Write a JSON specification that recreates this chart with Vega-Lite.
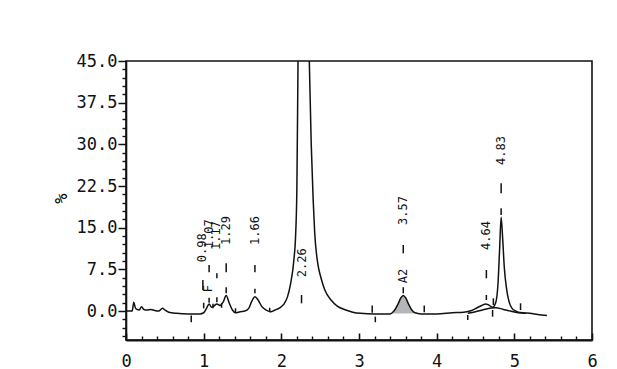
{
  "$schema": "https://vega.github.io/schema/vega-lite/v6.json",
  "width": 466,
  "height": 279,
  "autosize": "none",
  "padding": {"left": 126, "top": 61, "right": 25, "bottom": 29},
  "background": "white",
  "config": {
    "view": {"stroke": "#111", "strokeWidth": 1.6},
    "axis": {"grid": false, "domainColor": "#111", "tickColor": "#111", "labelColor": "#111", "labelFont": "DejaVu Sans Mono", "labelFontSize": 17, "titleFont": "DejaVu Sans Mono"}
  },
  "datasets": {
    "sig": [
      {"x": 0.00, "y": 0.0}, {"x": 0.08, "y": 0.0}, {"x": 0.10, "y": 1.6}, {"x": 0.12, "y": 0.6},
      {"x": 0.14, "y": 0.3}, {"x": 0.17, "y": 0.2}, {"x": 0.20, "y": 0.8}, {"x": 0.23, "y": 0.3},
      {"x": 0.27, "y": 0.2}, {"x": 0.32, "y": 0.3}, {"x": 0.37, "y": 0.1}, {"x": 0.42, "y": 0.0},
      {"x": 0.47, "y": 0.5}, {"x": 0.50, "y": 0.2}, {"x": 0.55, "y": -0.2}, {"x": 0.65, "y": -0.4},
      {"x": 0.80, "y": -0.5}, {"x": 0.95, "y": -0.5}, {"x": 1.00, "y": -0.3}, {"x": 1.04, "y": 0.6},
      {"x": 1.07, "y": 1.3}, {"x": 1.10, "y": 0.7}, {"x": 1.13, "y": 0.9}, {"x": 1.17, "y": 1.3},
      {"x": 1.21, "y": 1.0}, {"x": 1.25, "y": 1.6}, {"x": 1.29, "y": 2.8}, {"x": 1.33, "y": 1.4},
      {"x": 1.37, "y": 0.2}, {"x": 1.41, "y": -0.3}, {"x": 1.47, "y": -0.1}, {"x": 1.53, "y": 0.0},
      {"x": 1.58, "y": 0.5}, {"x": 1.62, "y": 1.8}, {"x": 1.66, "y": 2.6}, {"x": 1.70, "y": 2.0},
      {"x": 1.75, "y": 0.8}, {"x": 1.80, "y": 0.2}, {"x": 1.86, "y": -0.1}, {"x": 1.92, "y": 0.2},
      {"x": 1.98, "y": 0.6}, {"x": 2.03, "y": 1.2}, {"x": 2.08, "y": 2.6}, {"x": 2.12, "y": 5.0},
      {"x": 2.16, "y": 9.0}, {"x": 2.185, "y": 14.0}, {"x": 2.20, "y": 22.0}, {"x": 2.215, "y": 45.0},
      {"x": 2.29, "y": 120.0}, {"x": 2.36, "y": 45.0}, {"x": 2.385, "y": 30.0}, {"x": 2.41, "y": 20.0},
      {"x": 2.43, "y": 14.0}, {"x": 2.47, "y": 8.5}, {"x": 2.51, "y": 6.0}, {"x": 2.56, "y": 3.8},
      {"x": 2.64, "y": 2.0}, {"x": 2.72, "y": 0.9}, {"x": 2.83, "y": 0.2}, {"x": 2.92, "y": -0.2},
      {"x": 3.02, "y": -0.4}, {"x": 3.20, "y": -0.5}, {"x": 3.40, "y": -0.5}, {"x": 3.45, "y": 0.0},
      {"x": 3.50, "y": 1.2}, {"x": 3.54, "y": 2.4}, {"x": 3.57, "y": 2.8}, {"x": 3.60, "y": 2.4},
      {"x": 3.64, "y": 1.2}, {"x": 3.68, "y": 0.2}, {"x": 3.72, "y": -0.3}, {"x": 3.80, "y": -0.5},
      {"x": 4.00, "y": -0.5}, {"x": 4.20, "y": -0.3}, {"x": 4.35, "y": -0.2}, {"x": 4.45, "y": 0.1},
      {"x": 4.52, "y": 0.6}, {"x": 4.58, "y": 1.0}, {"x": 4.63, "y": 1.3}, {"x": 4.67, "y": 1.1},
      {"x": 4.72, "y": 0.7}, {"x": 4.76, "y": 1.5}, {"x": 4.79, "y": 5.0}, {"x": 4.81, "y": 11.0},
      {"x": 4.83, "y": 16.9}, {"x": 4.85, "y": 13.0}, {"x": 4.87, "y": 8.0}, {"x": 4.90, "y": 4.0},
      {"x": 4.93, "y": 1.8}, {"x": 4.97, "y": 0.5}, {"x": 5.02, "y": 0.0}, {"x": 5.10, "y": -0.3},
      {"x": 5.20, "y": -0.4}, {"x": 5.30, "y": -0.6}, {"x": 5.42, "y": -0.8}
    ],
    "skim": [
      {"x": 4.40, "y": -0.4}, {"x": 4.50, "y": -0.1}, {"x": 4.60, "y": 0.25}, {"x": 4.70, "y": 0.55},
      {"x": 4.76, "y": 0.6}, {"x": 4.85, "y": 0.35}, {"x": 4.95, "y": 0.0}, {"x": 5.05, "y": -0.3},
      {"x": 5.15, "y": -0.4}
    ],
    "a2": [
      {"x": 3.44, "y": -0.1, "b": -0.45}, {"x": 3.47, "y": 0.5, "b": -0.45}, {"x": 3.50, "y": 1.2, "b": -0.45},
      {"x": 3.54, "y": 2.4, "b": -0.45}, {"x": 3.57, "y": 2.8, "b": -0.45}, {"x": 3.60, "y": 2.4, "b": -0.45},
      {"x": 3.64, "y": 1.2, "b": -0.45}, {"x": 3.68, "y": 0.2, "b": -0.45}, {"x": 3.71, "y": -0.3, "b": -0.45}
    ],
    "labels": [
      {"x": 0.98, "y": 8.8, "t": "0.98"},
      {"x": 1.07, "y": 11.3, "t": "1.07"},
      {"x": 1.16, "y": 11.0, "t": "1.17"},
      {"x": 1.29, "y": 11.9, "t": "1.29"},
      {"x": 1.66, "y": 11.9, "t": "1.66"},
      {"x": 2.26, "y": 6.1, "t": "2.26"},
      {"x": 3.57, "y": 15.5, "t": "3.57"},
      {"x": 4.64, "y": 11.0, "t": "4.64"},
      {"x": 4.83, "y": 26.3, "t": "4.83"},
      {"x": 1.06, "y": 3.4, "t": "F"},
      {"x": 3.57, "y": 5.0, "t": "A2"}
    ],
    "dashes": [
      {"x": 0.99, "y1": 3.8, "y2": 5.6}, {"x": 1.0, "y1": 0.5, "y2": 1.5},
      {"x": 1.07, "y1": 7.0, "y2": 8.3}, {"x": 1.07, "y1": 1.5, "y2": 2.4},
      {"x": 1.17, "y1": 5.9, "y2": 6.8}, {"x": 1.17, "y1": 1.6, "y2": 2.5},
      {"x": 1.12, "y1": 0.5, "y2": 1.3}, {"x": 1.23, "y1": 0.6, "y2": 1.4},
      {"x": 1.29, "y1": 7.0, "y2": 8.6}, {"x": 1.29, "y1": 3.2, "y2": 4.3},
      {"x": 1.66, "y1": 7.0, "y2": 8.3}, {"x": 1.66, "y1": 3.2, "y2": 4.0},
      {"x": 1.41, "y1": -0.3, "y2": 0.5}, {"x": 1.85, "y1": -0.2, "y2": 0.6},
      {"x": 2.26, "y1": 1.4, "y2": 2.9},
      {"x": 3.57, "y1": 10.4, "y2": 11.9}, {"x": 3.57, "y1": 3.2, "y2": 4.3},
      {"x": 4.64, "y1": 5.9, "y2": 7.4}, {"x": 4.64, "y1": 2.0, "y2": 2.9},
      {"x": 4.83, "y1": 21.2, "y2": 23.0}, {"x": 4.83, "y1": 17.3, "y2": 18.5},
      {"x": 0.84, "y1": -2.0, "y2": -0.8}, {"x": 3.17, "y1": -0.3, "y2": 1.0},
      {"x": 3.21, "y1": -2.0, "y2": -1.0}, {"x": 3.84, "y1": -0.2, "y2": 1.0},
      {"x": 4.40, "y1": -1.6, "y2": -0.7}, {"x": 4.73, "y1": 1.1, "y2": 2.3},
      {"x": 4.72, "y1": -1.0, "y2": 0.2}, {"x": 5.08, "y1": 0.2, "y2": 1.4}
    ]
  },
  "resolve": {"axis": {"x": "independent", "y": "independent"}},
  "layer": [
    {
      "data": {"name": "a2"},
      "mark": {"type": "area", "interpolate": "monotone", "fill": "#b3b7bb", "opacity": 1},
      "encoding": {
        "x": {"field": "x", "type": "quantitative", "scale": {"domain": [0, 6], "nice": false, "zero": false},
          "axis": {"orient": "bottom", "values": [0, 1, 2, 3, 4, 5, 6], "tickSize": -7, "tickWidth": 1.6, "labelPadding": 20, "domainWidth": 2, "title": null, "labelFlush": false, "labelOverlap": false}},
        "y": {"field": "y", "type": "quantitative", "scale": {"domain": [-5.2, 45], "nice": false, "zero": false},
          "axis": {"orient": "left", "values": [0, 7.5, 15, 22.5, 30, 37.5, 45], "format": ".1f", "tickSize": 8, "tickWidth": 1.5, "labelPadding": 1, "domainWidth": 1.6, "title": "%", "titleFontSize": 17, "titleFontWeight": "normal", "titleX": -56, "titleY": 137, "labelFlush": false, "labelOverlap": false}},
        "y2": {"field": "b"}
      }
    },
    {
      "data": {"name": "sig"},
      "mark": {"type": "line", "interpolate": "monotone", "clip": true, "stroke": "#111", "strokeWidth": 1.5},
      "encoding": {
        "x": {"field": "x", "type": "quantitative",
          "axis": {"orient": "bottom", "values": [0.2, 0.4, 0.6, 0.8, 1.2, 1.4, 1.6, 1.8, 2.2, 2.4, 2.6, 2.8, 3.2, 3.4, 3.6, 3.8, 4.2, 4.4, 4.6, 4.8, 5.2, 5.4, 5.6, 5.8], "tickSize": -4, "tickWidth": 1.4, "labels": false, "domain": false, "title": null}},
        "y": {"field": "y", "type": "quantitative",
          "axis": {"orient": "left", "values": [-4.5, -3, -1.5, 1.5, 3, 4.5, 6, 9, 10.5, 12, 13.5, 16.5, 18, 19.5, 21, 24, 25.5, 27, 28.5, 31.5, 33, 34.5, 36, 39, 40.5, 42, 43.5], "tickSize": 4, "tickWidth": 1.4, "labels": false, "domain": false, "title": null}}
      }
    },
    {
      "data": {"name": "skim"},
      "mark": {"type": "line", "interpolate": "monotone", "stroke": "#111", "strokeWidth": 1.5},
      "encoding": {
        "x": {"field": "x", "type": "quantitative", "axis": null},
        "y": {"field": "y", "type": "quantitative", "axis": null}
      }
    },
    {
      "data": {"name": "dashes"},
      "mark": {"type": "rule", "stroke": "#111", "strokeWidth": 1.5},
      "encoding": {
        "x": {"field": "x", "type": "quantitative", "axis": null},
        "y": {"field": "y1", "type": "quantitative", "axis": null},
        "y2": {"field": "y2"}
      }
    },
    {
      "data": {"name": "labels"},
      "mark": {"type": "text", "angle": 270, "align": "left", "baseline": "middle", "font": "DejaVu Sans Mono", "fontSize": 12, "fill": "#111"},
      "encoding": {
        "x": {"field": "x", "type": "quantitative", "axis": null},
        "y": {"field": "y", "type": "quantitative", "axis": null},
        "text": {"field": "t", "type": "nominal"}
      }
    }
  ]
}
